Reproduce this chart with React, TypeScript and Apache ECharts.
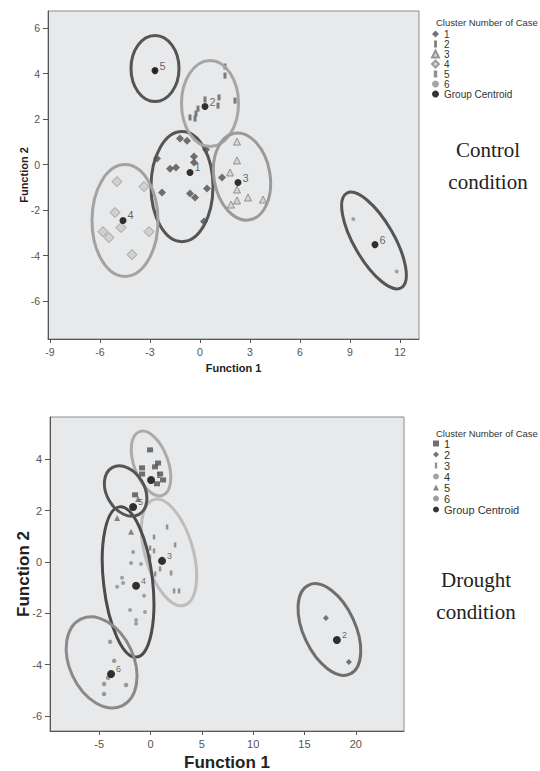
import React, { useEffect, useRef } from 'react';
import * as echarts from 'echarts';

// ================= Control condition =================
const CTRL_X_TICKS = [-9, -6, -3, 0, 3, 6, 9, 12];
const CTRL_Y_TICKS = [-6, -4, -2, 0, 2, 4, 6];
const CLUSTER_NAMES = ['1', '2', '3', '4', '5', '6'];

const CTRL_C1 = [[-1.2, 1.14], [-0.78, 1.05], [-0.36, 0.35], [-0.36, 0.09], [-1.8, -0.18], [-1.44, -0.13], [-2.58, 0.26], [-2.28, -1.23], [-0.6, -1.27], [-0.3, -1.45], [0.42, -1.05], [0.24, -2.5], [0.36, 0.66], [1.32, -0.57]];
const CTRL_C2 = [[1.5, 4.31], [1.5, 3.91], [0.3, 2.86], [1.14, 2.95], [2.1, 2.81], [1.08, 2.59], [-0.12, 2.46], [-0.24, 2.24], [-0.6, 2.07], [-0.3, 2.02]];
const CTRL_C3 = [[2.22, 1.01], [2.22, 0.18], [1.8, -0.35], [2.22, -1.1], [2.88, -1.45], [2.22, -1.58], [1.86, -1.76], [3.78, -1.54]];
const CTRL_C4 = [[-4.98, -0.75], [-3.36, -0.97], [-5.1, -2.11], [-4.74, -2.77], [-5.82, -2.95], [-5.46, -3.21], [-3.06, -2.95], [-4.08, -3.96]];
const CTRL_C5 = [[-2.7, 4.13]];
const CTRL_C6 = [[9.2, -2.4], [11.8, -4.7]];
const CTRL_CENTROIDS = [[-0.6, -0.35], [0.3, 2.55], [2.28, -0.79], [-4.62, -2.46], [-2.7, 4.13], [10.5, -3.52]];
// [centre x, centre y, semi-axis (x units), semi-axis (y units), rotation deg]
const CTRL_ELLIPSES = [[-1.08, -0.97, 1.86, 2.42, 0], [0.6, 2.68, 1.71, 1.89, 0], [2.52, -0.53, 1.68, 1.93, 10], [-4.5, -2.46, 1.98, 2.46, 0], [-2.7, 4.22, 1.44, 1.45, 0], [10.44, -3.34, 1.2, 2.4, 30]];

// ================= Drought condition =================
const DRT_X_TICKS = [-5, 0, 5, 10, 15, 20];
const DRT_Y_TICKS = [-6, -4, -2, 0, 2, 4];

const DRT_C1 = [[-0.05, 4.36], [-0.83, 3.66], [-0.83, 3.42], [0.73, 3.85], [0.44, 3.7], [0.93, 3.42], [1.22, 3.19], [0.63, 3.04], [-1.51, 2.61]];
const DRT_C2 = [[17.09, -2.18], [19.33, -3.89]];
const DRT_C3 = [[1.61, 1.36], [0.34, 0.97], [2.39, 0.66], [-0.05, 0.54], [0.34, 0.43], [-0.05, 0.19], [0.93, -0.27], [2.0, -0.43], [0.44, -0.47], [2.29, -1.13], [2.78, -1.13]];
const DRT_C4 = [[-1.7, 0.39], [-1.9, -0.04], [-0.93, -0.08], [-2.78, -0.62], [-2.68, -0.82], [-3.26, -0.97], [-0.63, -1.32], [-2.0, -1.87], [-0.54, -1.95], [-1.41, -2.26], [-1.41, -2.41]];
const DRT_C5 = [[-1.22, 2.45], [-3.26, 1.71], [-1.9, 1.17]];
const DRT_C6 = [[-3.94, -3.11], [-3.55, -3.85], [-4.14, -4.51], [-4.53, -4.75], [-2.39, -4.79], [-4.53, -5.14]];
const DRT_CENTROIDS = [[0.05, 3.19], [18.16, -3.04], [1.12, 0.04], [-1.41, -0.93], [-1.7, 2.14], [-3.85, -4.36]];
const DRT_ELLIPSES = [[0.05, 3.83, 1.66, 1.32, 20], [17.43, -2.63, 2.53, 1.91, 25], [1.8, 0.37, 2.34, 2.14, 16], [-2.19, -0.78, 2.39, 2.94, 6.5], [-2.43, 2.76, 1.85, 1.05, 30], [-4.77, -3.91, 3.12, 1.87, 25]];

// styles
const CTRL_ELLIPSE_COLORS = ['#555555', '#a6a6a6', '#9a9a9a', '#a2a2a2', '#555555', '#555555'];
const DRT_ELLIPSE_COLORS = ['#ababab', '#6e6e6e', '#bdbdbd', '#4c4c4c', '#555555', '#8a8a8a'];

const FONT = 'Liberation Sans';

function xAxisOpt(min: number, max: number, ticks: number[], nameSize: number, labelSize: number, gap: number) {
  return {
    type: 'value', min, max, name: 'Function 1', nameLocation: 'middle', nameGap: gap, nameMoveOverlap: false,
    nameTextStyle: { fontFamily: FONT, fontWeight: 'bold', fontSize: nameSize, color: '#222' },
    axisLine: { show: true, onZero: false, lineStyle: { color: '#555', width: 1 } },
    axisTick: { show: true, length: 4, customValues: ticks, lineStyle: { color: '#555' } },
    axisLabel: { customValues: ticks, fontSize: labelSize, color: '#555', margin: 7, fontFamily: FONT },
    splitLine: { show: false },
  };
}
function yAxisOpt(min: number, max: number, ticks: number[], nameSize: number, labelSize: number, gap: number) {
  return {
    type: 'value', min, max, name: 'Function 2', nameLocation: 'middle', nameGap: gap, nameMoveOverlap: false,
    nameTextStyle: { fontFamily: FONT, fontWeight: 'bold', fontSize: nameSize, color: '#222' },
    axisLine: { show: true, onZero: false, lineStyle: { color: '#555', width: 1 } },
    axisTick: { show: true, length: 5, customValues: ticks, lineStyle: { color: '#555' } },
    axisLabel: { customValues: ticks, fontSize: labelSize, color: '#555', margin: 8, fontFamily: FONT },
    splitLine: { show: false },
  };
}

function ellipseSeries(data: number[][], colors: string[]) {
  return {
    type: 'custom', name: 'ellipses', silent: true, z: 3, encode: { x: 0, y: 1 }, data,
    renderItem: (params: any, api: any) => {
      const c = api.coord([api.value(0), api.value(1)]);
      const s = api.size([api.value(2), api.value(3)]);
      return {
        type: 'ellipse', x: c[0], y: c[1], rotation: (api.value(4) * Math.PI) / 180,
        shape: { cx: 0, cy: 0, rx: s[0], ry: s[1] },
        style: { fill: 'none', stroke: colors[params.dataIndex], lineWidth: 3 },
      };
    },
  };
}

function centroidSeries(data: number[][], fontSize: number, size: number) {
  return {
    type: 'scatter', name: 'Group Centroid', z: 5, symbol: 'circle', symbolSize: size,
    itemStyle: { color: '#000' },
    data: data.map((v, i) => ({ value: v, name: CLUSTER_NAMES[i] })),
    label: { show: true, formatter: '{b}', position: 'right', distance: 1, offset: [0, -5], fontSize, color: '#444', fontFamily: FONT },
  };
}

const SMALL_BAR = 'path://M0,0h2v5h-2z';

function controlOption() {
  return {
    animation: false,
    grid: { left: 48, top: 11, width: 371, height: 328, outerBoundsMode: 'none', containLabel: false, show: true, backgroundColor: '#e8e9eb', borderColor: '#8c8c8c', borderWidth: 1 },
    xAxis: xAxisOpt(-9.12, 13.14, CTRL_X_TICKS, 11, 10.5, 23),
    yAxis: yAxisOpt(-7.67, 6.75, CTRL_Y_TICKS, 11, 10.5, 19),
    title: { text: 'Cluster Number of Case', left: 431, top: 12, textStyle: { fontFamily: FONT, fontSize: 9.5, fontWeight: 'normal', color: '#333' } },
    legend: {
      orient: 'vertical', left: 431, top: 29, itemWidth: 7, itemHeight: 7, itemGap: 0, padding: 0,
      textStyle: { fontFamily: FONT, fontSize: 10, color: '#333', lineHeight: 9.3 },
      data: [
        { name: '1', icon: 'diamond' },
        { name: '2', icon: SMALL_BAR },
        { name: '3', icon: 'triangle' },
        { name: '4', icon: 'diamond' },
        { name: '5', icon: 'path://M0,0h2v4h-2z' },
        { name: '6', icon: 'circle' },
        { name: 'Group Centroid', icon: 'circle' },
      ],
    },
    graphic: [
      { type: 'text', x: 488, y: 150, style: { text: 'Control', font: '21px "Liberation Serif"', fill: '#222', textAlign: 'center', textVerticalAlign: 'middle' } },
      { type: 'text', x: 488, y: 182, style: { text: 'condition', font: '21px "Liberation Serif"', fill: '#222', textAlign: 'center', textVerticalAlign: 'middle' } },
    ],
    series: [
      { type: 'scatter', name: '1', z: 2, data: CTRL_C1, symbol: 'diamond', symbolSize: 8, itemStyle: { color: '#4f4f4f' } },
      { type: 'scatter', name: '2', z: 2, data: CTRL_C2, symbol: 'rect', symbolSize: [3, 6], itemStyle: { color: '#5e5e5e' } },
      { type: 'scatter', name: '3', z: 2, data: CTRL_C3, symbol: 'triangle', symbolSize: 7, itemStyle: { color: '#cfcfcf', borderColor: '#7e7e7e', borderWidth: 1 } },
      { type: 'scatter', name: '4', z: 2, data: CTRL_C4, symbol: 'diamond', symbolSize: 10, itemStyle: { color: '#cacaca', borderColor: '#8a8a8a', borderWidth: 1 } },
      { type: 'scatter', name: '5', z: 2, data: CTRL_C5, symbol: 'rect', symbolSize: [2, 4], itemStyle: { color: '#777' } },
      { type: 'scatter', name: '6', z: 2, data: CTRL_C6, symbol: 'circle', symbolSize: 4, itemStyle: { color: '#8e8e8e' } },
      ellipseSeries(CTRL_ELLIPSES, CTRL_ELLIPSE_COLORS),
      centroidSeries(CTRL_CENTROIDS, 11, 7),
    ],
  };
}

function droughtOption() {
  return {
    animation: false,
    grid: { left: 50, top: 27, width: 354, height: 314, outerBoundsMode: 'none', containLabel: false, show: true, backgroundColor: '#e8e9eb', borderColor: '#8c8c8c', borderWidth: 1 },
    xAxis: xAxisOpt(-9.8, 24.7, DRT_X_TICKS, 17, 11, 23),
    yAxis: yAxisOpt(-6.58, 5.64, DRT_Y_TICKS, 17, 11, 18),
    title: { text: 'Cluster Number of Case', left: 431, top: 33, textStyle: { fontFamily: FONT, fontSize: 9.5, fontWeight: 'normal', color: '#333' } },
    legend: {
      orient: 'vertical', left: 433, top: 48, itemWidth: 6, itemHeight: 6, itemGap: 0, padding: 0,
      textStyle: { fontFamily: FONT, fontSize: 11, color: '#333', lineHeight: 8.9 },
      data: [
        { name: '1', icon: 'rect' },
        { name: '2', icon: 'diamond' },
        { name: '3', icon: SMALL_BAR },
        { name: '4', icon: 'circle' },
        { name: '5', icon: 'triangle' },
        { name: '6', icon: 'circle' },
        { name: 'Group Centroid', icon: 'circle' },
      ],
    },
    graphic: [
      { type: 'text', x: 476, y: 190, style: { text: 'Drought', font: '21px "Liberation Serif"', fill: '#222', textAlign: 'center', textVerticalAlign: 'middle' } },
      { type: 'text', x: 476, y: 222, style: { text: 'condition', font: '21px "Liberation Serif"', fill: '#222', textAlign: 'center', textVerticalAlign: 'middle' } },
    ],
    series: [
      { type: 'scatter', name: '1', z: 2, data: DRT_C1, symbol: 'rect', symbolSize: [6, 5], itemStyle: { color: '#4e4e4e' } },
      { type: 'scatter', name: '2', z: 2, data: DRT_C2, symbol: 'diamond', symbolSize: 6, itemStyle: { color: '#555' } },
      { type: 'scatter', name: '3', z: 2, data: DRT_C3, symbol: 'rect', symbolSize: [2.5, 5], itemStyle: { color: '#7a7a7a' } },
      { type: 'scatter', name: '4', z: 2, data: DRT_C4, symbol: 'circle', symbolSize: 4, itemStyle: { color: '#8c8c8c' } },
      { type: 'scatter', name: '5', z: 2, data: DRT_C5, symbol: 'triangle', symbolSize: 6, itemStyle: { color: '#6a6a6a' } },
      { type: 'scatter', name: '6', z: 2, data: DRT_C6, symbol: 'circle', symbolSize: 4.5, itemStyle: { color: '#858585' } },
      ellipseSeries(DRT_ELLIPSES, DRT_ELLIPSE_COLORS),
      centroidSeries(DRT_CENTROIDS, 9, 8),
    ],
  };
}

function ChartBox({ top, height, option }: { top: number; height: number; option: any }) {
  const ref = useRef<HTMLDivElement>(null);
  useEffect(() => {
    if (!ref.current) return;
    const chart = echarts.init(ref.current, undefined, { renderer: 'svg' });
    chart.setOption(option);
    return () => chart.dispose();
  }, []);
  return <div ref={ref} style={{ position: 'absolute', left: 0, top, width: 540, height }} />;
}

export default function App() {
  return (
    <div style={{ position: 'absolute', left: 0, top: 0, width: 540, height: 771, background: '#fff' }}>
      <ChartBox top={0} height={390} option={controlOption()} />
      <ChartBox top={390} height={381} option={droughtOption()} />
    </div>
  );
}
